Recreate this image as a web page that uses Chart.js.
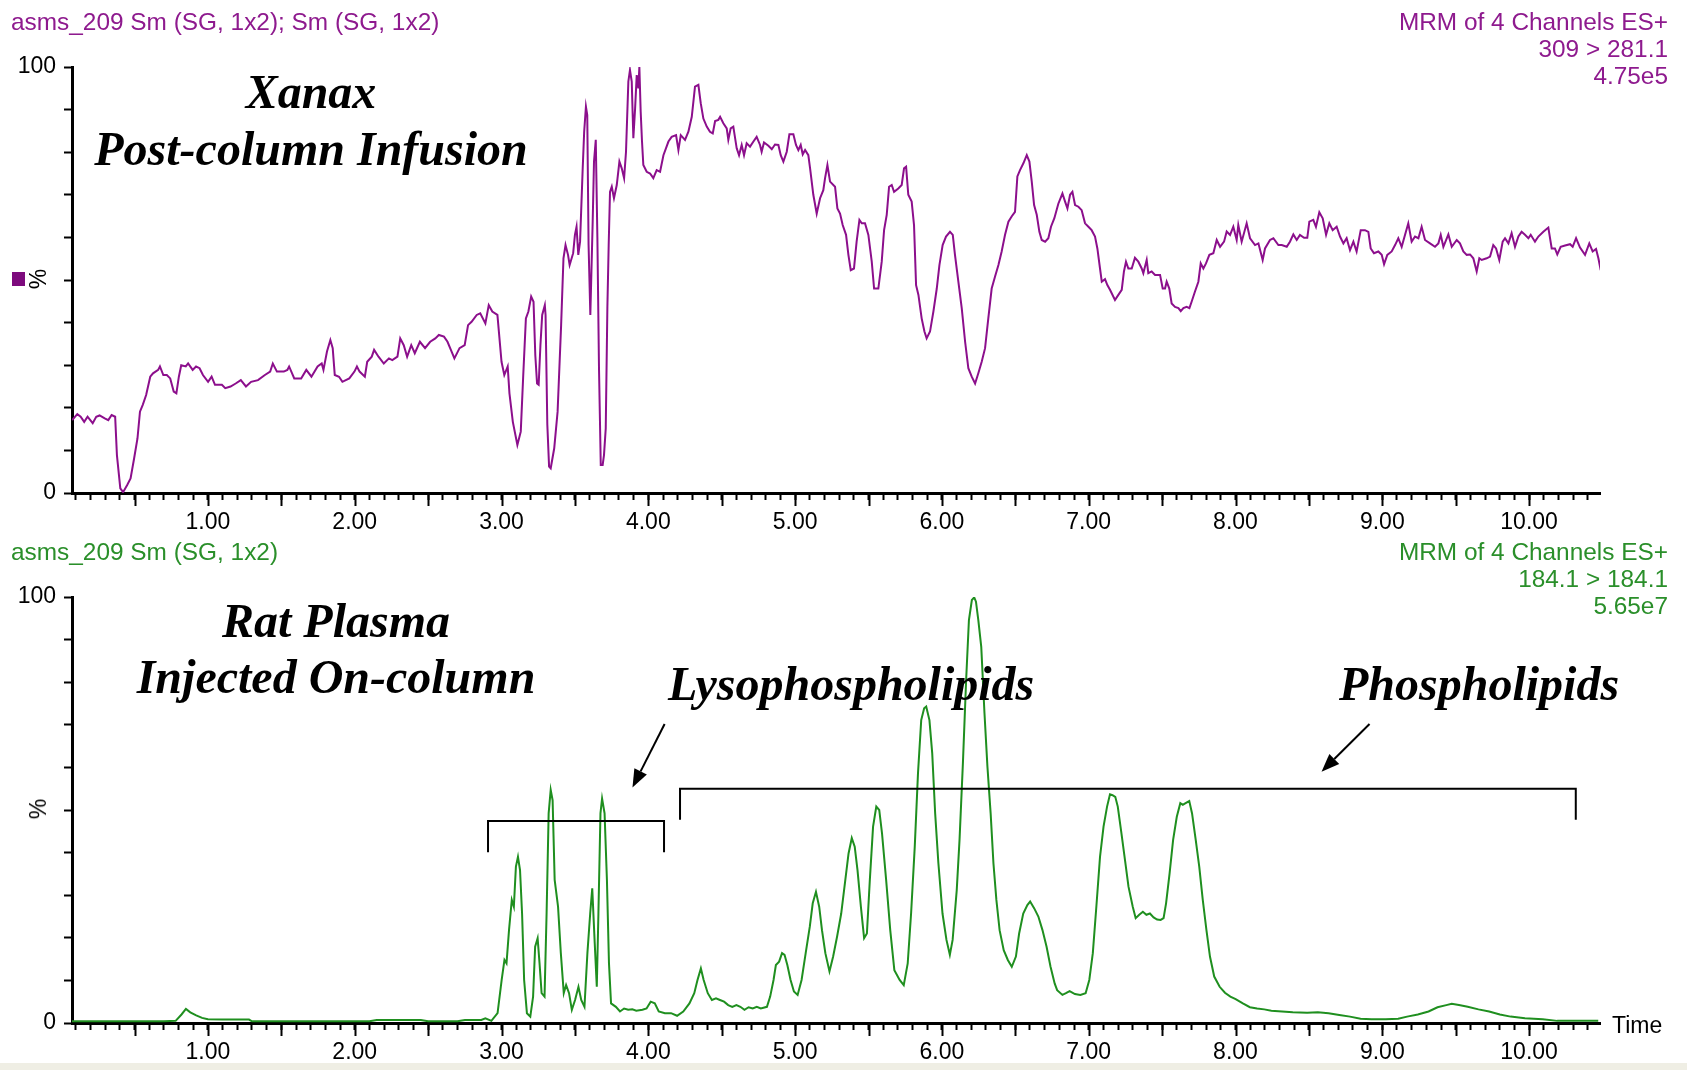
<!DOCTYPE html>
<html>
<head>
<meta charset="utf-8">
<title>MRM chromatograms</title>
<script src="https://cdn.jsdelivr.net/npm/chart.js@4.4.1/dist/chart.umd.min.js"></script>
<style>
    html, body { margin: 0; padding: 0; background: #fff; }
    body { width: 1687px; height: 1070px; position: relative; overflow: hidden; font-family: "Liberation Sans", Arial, sans-serif; }
    canvas { position: absolute; left: 0; }
    #topChart { top: 0; }
    #bottomChart { top: 535px; }
    .hdr { position: absolute; font-size: 24.4px; line-height: 27px; white-space: nowrap; }
    .hdr.right { right: 19px; text-align: right; }
    .purple { color: #8e1a8e; }
    .green { color: #2a8f2a; }
    .note { position: absolute; font-family: "Liberation Serif", "Times New Roman", serif; font-weight: bold; font-style: italic; font-size: 48px; line-height: 48px; color: #000; white-space: nowrap; }
    .centered { transform: translateX(-50%); }
    .pct { position: absolute; font-size: 23px; line-height: 26px; transform: translate(-50%, -50%) rotate(-90deg); }
    .swatch { position: absolute; left: 12px; top: 272px; width: 13px; height: 14px; background: #7d0a7d; }
    .time { position: absolute; left: 1612px; top: 1012px; font-size: 23px; line-height: 26px; }
    .edge { position: absolute; left: 0; top: 1063px; width: 1687px; height: 7px; background: #efeee4; }
</style>
</head>
<body>
<canvas id="topChart" width="1687" height="535"></canvas>
<canvas id="bottomChart" width="1687" height="535"></canvas>

<div class="hdr purple" style="left:11px; top:8px;">asms_209 Sm (SG, 1x2); Sm (SG, 1x2)</div>
<div class="hdr purple right" style="top:8px;">MRM of 4 Channels ES+<br>309 &gt; 281.1<br>4.75e5</div>
<div class="hdr green" style="left:11px; top:538px;">asms_209 Sm (SG, 1x2)</div>
<div class="hdr green right" style="top:538px;">MRM of 4 Channels ES+<br>184.1 &gt; 184.1<br>5.65e7</div>

<div class="note centered" style="left:311px; top:68px;">Xanax</div>
<div class="note centered" style="left:311px; top:125px;">Post-column Infusion</div>
<div class="note centered" style="left:336px; top:597px;">Rat Plasma</div>
<div class="note centered" style="left:336px; top:653px;">Injected On-column</div>
<div class="note" style="left:668px; top:660px;">Lysophospholipids</div>
<div class="note" style="left:1339px; top:660px;">Phospholipids</div>

<div class="swatch"></div>
<div class="pct" style="left:38px; top:279px;">%</div>
<div class="pct" style="left:38px; top:809px;">%</div>
<div class="time">Time</div>
<div class="edge"></div>

<script>
// retention time (min) and relative intensity (%)
const xanaxTime = [
    0.075, 0.110, 0.133, 0.157, 0.180, 0.215, 0.239, 0.262, 0.297, 0.321, 0.344, 0.368, 0.380, 0.403, 0.422, 0.450,
    0.473, 0.497, 0.520, 0.537, 0.556, 0.579, 0.607, 0.626, 0.661, 0.673, 0.696, 0.720, 0.743, 0.767, 0.785, 0.802,
    0.818, 0.849, 0.865, 0.896, 0.919, 0.943, 0.966, 1.001, 1.025, 1.048, 1.095, 1.118, 1.154, 1.189, 1.224, 1.259,
    1.294, 1.341, 1.388, 1.424, 1.442, 1.470, 1.517, 1.541, 1.553, 1.588, 1.635, 1.670, 1.705, 1.747, 1.775, 1.787,
    1.811, 1.834, 1.850, 1.864, 1.893, 1.916, 1.963, 1.998, 2.015, 2.033, 2.069, 2.085, 2.116, 2.132, 2.162, 2.198,
    2.233, 2.256, 2.291, 2.310, 2.334, 2.357, 2.385, 2.409, 2.444, 2.479, 2.514, 2.549, 2.573, 2.608, 2.632, 2.655,
    2.679, 2.714, 2.749, 2.772, 2.796, 2.831, 2.855, 2.890, 2.913, 2.937, 2.972, 3.000, 3.019, 3.042, 3.054, 3.077,
    3.108, 3.131, 3.148, 3.166, 3.183, 3.202, 3.218, 3.230, 3.242, 3.253, 3.265, 3.277, 3.295, 3.300, 3.312, 3.324,
    3.335, 3.359, 3.382, 3.406, 3.422, 3.436, 3.453, 3.464, 3.488, 3.500, 3.511, 3.523, 3.535, 3.553, 3.563, 3.575,
    3.584, 3.593, 3.605, 3.621, 3.630, 3.642, 3.653, 3.664, 3.676, 3.689, 3.698, 3.710, 3.721, 3.730, 3.739, 3.751,
    3.766, 3.785, 3.803, 3.819, 3.835, 3.848, 3.864, 3.875, 3.887, 3.898, 3.910, 3.921, 3.932, 3.939, 3.948, 3.957,
    3.966, 3.989, 4.012, 4.034, 4.057, 4.080, 4.103, 4.137, 4.159, 4.189, 4.205, 4.221, 4.250, 4.273, 4.296, 4.318,
    4.341, 4.357, 4.375, 4.398, 4.420, 4.439, 4.455, 4.477, 4.489, 4.511, 4.534, 4.545, 4.561, 4.579, 4.602, 4.618,
    4.636, 4.652, 4.670, 4.693, 4.716, 4.738, 4.761, 4.772, 4.788, 4.818, 4.841, 4.863, 4.886, 4.902, 4.920, 4.943,
    4.961, 4.988, 5.006, 5.022, 5.038, 5.052, 5.068, 5.090, 5.102, 5.124, 5.147, 5.170, 5.192, 5.204, 5.220, 5.238,
    5.272, 5.288, 5.306, 5.324, 5.347, 5.363, 5.379, 5.401, 5.419, 5.438, 5.454, 5.476, 5.499, 5.522, 5.538, 5.567,
    5.590, 5.606, 5.624, 5.640, 5.658, 5.674, 5.703, 5.726, 5.742, 5.756, 5.771, 5.794, 5.810, 5.824, 5.840, 5.862,
    5.881, 5.896, 5.919, 5.942, 5.965, 5.983, 6.005, 6.028, 6.055, 6.074, 6.089, 6.112, 6.135, 6.158, 6.180, 6.203,
    6.226, 6.248, 6.271, 6.294, 6.316, 6.339, 6.362, 6.385, 6.407, 6.430, 6.453, 6.475, 6.498, 6.514, 6.532, 6.555,
    6.578, 6.596, 6.612, 6.628, 6.646, 6.664, 6.680, 6.703, 6.725, 6.743, 6.766, 6.793, 6.821, 6.839, 6.855, 6.873,
    6.889, 6.907, 6.930, 6.952, 6.975, 6.998, 7.020, 7.043, 7.059, 7.077, 7.089, 7.111, 7.127, 7.145, 7.179, 7.202,
    7.225, 7.240, 7.254, 7.270, 7.293, 7.315, 7.338, 7.361, 7.372, 7.395, 7.406, 7.429, 7.452, 7.486, 7.504, 7.520,
    7.531, 7.549, 7.565, 7.588, 7.611, 7.627, 7.645, 7.667, 7.686, 7.701, 7.724, 7.747, 7.763, 7.781, 7.799, 7.822,
    7.849, 7.872, 7.895, 7.922, 7.940, 7.963, 7.985, 8.008, 8.019, 8.042, 8.076, 8.099, 8.133, 8.156, 8.185, 8.201,
    8.235, 8.258, 8.292, 8.315, 8.349, 8.371, 8.394, 8.417, 8.439, 8.467, 8.489, 8.503, 8.530, 8.548, 8.571, 8.594,
    8.617, 8.639, 8.662, 8.689, 8.712, 8.735, 8.757, 8.780, 8.803, 8.825, 8.853, 8.882, 8.905, 8.921, 8.943, 8.973,
    8.996, 9.012, 9.034, 9.064, 9.087, 9.109, 9.132, 9.155, 9.177, 9.200, 9.223, 9.246, 9.268, 9.291, 9.325, 9.359,
    9.382, 9.398, 9.416, 9.450, 9.473, 9.507, 9.529, 9.552, 9.575, 9.598, 9.620, 9.643, 9.661, 9.677, 9.711, 9.734,
    9.756, 9.775, 9.797, 9.820, 9.836, 9.859, 9.881, 9.904, 9.927, 9.949, 9.972, 9.995, 10.011, 10.040, 10.063, 10.097,
    10.131, 10.154, 10.176, 10.192, 10.215, 10.245, 10.279, 10.297, 10.320, 10.347, 10.381, 10.410, 10.433, 10.456, 10.472, 10.488
];
const xanaxPct = [
    17.1, 18.5, 17.9, 16.7, 17.9, 16.4, 17.9, 18.2, 17.5, 17.1, 18.3, 17.9, 8.9, 1.1, 0.2, 1.9,
    3.4, 8.1, 12.8, 19.1, 20.7, 23.0, 27.3, 28.1, 28.9, 29.7, 27.7, 27.7, 26.9, 23.8, 23.4, 27.3,
    30.0, 29.7, 30.4, 28.9, 29.7, 29.3, 27.7, 26.1, 27.3, 25.4, 25.4, 24.6, 25.0, 25.7, 26.5, 25.0,
    26.1, 26.5, 27.7, 28.5, 30.4, 28.5, 28.5, 28.9, 29.7, 26.9, 26.9, 28.9, 27.3, 29.7, 30.4, 28.9,
    33.2, 35.9, 34.0, 27.7, 27.3, 26.1, 26.9, 28.5, 29.7, 28.5, 27.3, 30.8, 32.0, 33.6, 32.0, 30.4,
    31.6, 31.2, 32.0, 36.3, 34.7, 32.0, 34.7, 32.8, 35.5, 34.0, 35.5, 36.3, 37.1, 36.7, 35.5, 33.6,
    31.6, 34.0, 34.7, 39.4, 40.2, 41.8, 42.2, 39.8, 44.1, 42.6, 41.8, 30.8, 27.7, 29.7, 23.4, 16.7,
    11.3, 14.4, 27.7, 41.0, 42.6, 46.1, 44.9, 32.4, 25.7, 25.4, 34.7, 41.8, 44.1, 41.8, 16.0, 6.2,
    5.8, 10.5, 19.1, 39.4, 55.1, 58.2, 55.9, 53.5, 56.3, 60.6, 62.5, 55.9, 59.0, 76.2, 84.8, 90.7,
    88.7, 58.2, 41.8, 63.7, 77.8, 82.9, 60.0, 29.3, 6.6, 6.6, 8.9, 15.2, 43.4, 58.2, 70.7, 71.9,
    69.2, 72.3, 77.8, 76.2, 73.9, 80.1, 96.6, 99.3, 96.6, 83.3, 90.3, 98.1, 95.0, 100.0, 89.5, 82.5,
    77.0, 75.4, 75.0, 73.9, 75.8, 75.4, 79.3, 82.5, 83.6, 84.0, 80.5, 84.0, 82.9, 84.8, 88.3, 95.4,
    95.8, 91.5, 87.9, 86.0, 84.8, 84.4, 87.3, 87.6, 88.3, 86.8, 85.6, 82.9, 85.6, 86.0, 80.9, 79.3,
    81.7, 79.3, 82.1, 81.3, 82.5, 83.6, 81.7, 80.1, 82.3, 81.5, 80.7, 81.8, 81.7, 79.3, 77.8, 80.1,
    84.2, 84.2, 81.7, 80.5, 81.7, 79.5, 80.5, 79.3, 76.2, 70.0, 65.6, 69.2, 71.1, 73.9, 77.0, 73.1,
    71.9, 66.8, 65.6, 62.9, 60.6, 55.9, 52.3, 52.7, 59.0, 64.1, 63.3, 63.3, 60.6, 54.3, 48.0, 48.0,
    54.3, 61.7, 65.3, 71.9, 72.3, 70.7, 71.5, 72.3, 76.2, 76.6, 70.0, 68.4, 62.9, 48.8, 46.5, 41.0,
    37.9, 36.3, 37.9, 42.6, 48.0, 53.5, 58.2, 60.2, 61.3, 60.6, 55.9, 49.6, 43.4, 35.5, 29.3, 27.3,
    25.7, 28.1, 30.8, 34.0, 41.0, 48.0, 50.8, 53.5, 56.7, 60.6, 63.7, 64.9, 66.0, 74.3, 75.8, 77.4,
    79.3, 77.8, 73.1, 67.6, 65.3, 61.3, 59.4, 59.0, 59.8, 62.5, 64.5, 67.9, 70.3, 68.4, 66.8, 70.0,
    70.7, 67.6, 67.2, 66.4, 63.3, 62.5, 61.7, 60.2, 57.4, 52.7, 49.6, 50.2, 48.8, 47.7, 45.3, 46.5,
    47.7, 52.0, 54.3, 52.7, 52.7, 55.2, 54.3, 52.7, 51.6, 54.7, 51.6, 52.0, 51.2, 51.2, 48.0, 48.0,
    49.6, 48.0, 44.5, 43.7, 43.4, 42.7, 43.4, 43.7, 43.4, 44.9, 47.3, 49.6, 53.9, 52.7, 53.9, 55.9,
    56.3, 59.4, 57.8, 59.0, 61.4, 60.6, 62.5, 59.4, 62.9, 59.0, 63.3, 59.8, 58.2, 58.6, 54.7, 57.4,
    59.4, 59.8, 58.2, 58.2, 57.8, 59.0, 60.7, 59.4, 60.6, 59.9, 59.9, 63.7, 64.1, 62.5, 65.9, 64.5,
    60.6, 63.3, 61.7, 62.5, 60.2, 58.6, 59.8, 57.0, 59.0, 56.7, 61.7, 61.7, 61.3, 57.4, 56.3, 56.7,
    55.9, 53.7, 55.9, 56.7, 58.2, 59.8, 57.8, 60.6, 63.3, 59.0, 60.2, 59.8, 62.5, 59.4, 58.6, 57.8,
    58.6, 60.6, 57.8, 60.7, 57.8, 59.4, 58.6, 56.7, 55.9, 56.0, 55.1, 52.0, 55.1, 54.7, 55.1, 55.5,
    58.2, 57.4, 54.7, 59.0, 59.8, 58.6, 61.0, 57.8, 60.2, 61.3, 60.6, 59.8, 60.6, 59.0, 60.2, 61.3,
    62.3, 57.4, 57.4, 56.0, 57.8, 58.1, 58.4, 57.8, 59.8, 57.6, 55.9, 58.6, 56.7, 57.3, 55.1, 52.3
];

const plasmaTime = [
    0.074, 0.30, 0.50, 0.70, 0.78, 0.82, 0.85, 0.88, 0.92, 0.96, 1.00, 1.10, 1.20, 1.28, 1.30, 1.50,
    1.80, 2.10, 2.15, 2.30, 2.45, 2.50, 2.70, 2.751, 2.862, 2.890, 2.931, 2.973, 3.001, 3.020, 3.034, 3.051,
    3.070, 3.084, 3.098, 3.112, 3.126, 3.140, 3.154, 3.173, 3.196, 3.215, 3.229, 3.246, 3.259, 3.273, 3.293, 3.307,
    3.321, 3.335, 3.348, 3.362, 3.385, 3.404, 3.424, 3.440, 3.460, 3.479, 3.501, 3.524, 3.543, 3.565, 3.585, 3.604,
    3.618, 3.635, 3.649, 3.660, 3.674, 3.685, 3.702, 3.718, 3.732, 3.746, 3.779, 3.807, 3.835, 3.863, 3.891, 3.918,
    3.960, 3.988, 4.016, 4.044, 4.071, 4.113, 4.155, 4.196, 4.238, 4.280, 4.313, 4.335, 4.358, 4.377, 4.405, 4.433,
    4.461, 4.488, 4.516, 4.544, 4.572, 4.600, 4.627, 4.655, 4.683, 4.711, 4.739, 4.766, 4.808, 4.830, 4.853, 4.869,
    4.891, 4.911, 4.928, 4.947, 4.969, 4.992, 5.017, 5.044, 5.072, 5.100, 5.120, 5.142, 5.164, 5.183, 5.206, 5.234,
    5.259, 5.286, 5.314, 5.342, 5.364, 5.386, 5.406, 5.425, 5.448, 5.470, 5.489, 5.509, 5.531, 5.553, 5.573, 5.592,
    5.620, 5.648, 5.676, 5.712, 5.740, 5.767, 5.790, 5.815, 5.837, 5.859, 5.879, 5.893, 5.915, 5.934, 5.954, 5.976,
    6.004, 6.031, 6.054, 6.073, 6.101, 6.120, 6.143, 6.165, 6.184, 6.204, 6.220, 6.232, 6.248, 6.268, 6.290, 6.310,
    6.332, 6.351, 6.371, 6.393, 6.421, 6.449, 6.476, 6.504, 6.526, 6.554, 6.582, 6.601, 6.629, 6.657, 6.685, 6.713,
    6.740, 6.768, 6.785, 6.821, 6.845, 6.870, 6.906, 6.943, 6.979, 7.004, 7.028, 7.052, 7.077, 7.101, 7.125, 7.145,
    7.162, 7.181, 7.198, 7.223, 7.247, 7.271, 7.300, 7.320, 7.344, 7.369, 7.393, 7.417, 7.442, 7.466, 7.490, 7.510,
    7.527, 7.551, 7.575, 7.600, 7.624, 7.641, 7.660, 7.685, 7.704, 7.729, 7.753, 7.777, 7.802, 7.826, 7.855, 7.892,
    7.928, 7.965, 8.001, 8.050, 8.098, 8.147, 8.196, 8.244, 8.317, 8.390, 8.488, 8.561, 8.634, 8.707, 8.780, 8.852,
    8.926, 9.023, 9.108, 9.169, 9.242, 9.315, 9.376, 9.436, 9.473, 9.522, 9.582, 9.655, 9.728, 9.801, 9.874, 9.972,
    10.093, 10.191, 10.288, 10.410, 10.471
];
const plasmaPct = [
    0.4, 0.4, 0.4, 0.4, 0.5, 2.0, 3.3, 2.5, 1.8, 1.2, 0.9, 0.8, 0.8, 0.8, 0.4, 0.4,
    0.4, 0.4, 0.7, 0.7, 0.7, 0.4, 0.4, 0.7, 0.7, 1.1, 0.5, 2.3, 10.1, 14.8, 14.0, 21.8,
    28.9, 27.3, 36.7, 39.0, 35.9, 25.7, 10.1, 2.3, 1.5, 6.2, 17.9, 19.9, 14.0, 7.0, 6.2, 25.7,
    49.2, 54.7, 52.3, 33.6, 27.3, 16.4, 7.0, 8.9, 7.0, 3.1, 5.4, 8.5, 5.4, 3.8, 16.4, 25.7,
    31.6, 18.7, 8.5, 25.7, 49.2, 52.7, 49.2, 33.6, 14.0, 4.6, 3.8, 2.7, 3.4, 3.1, 3.2, 2.9,
    3.1, 3.4, 5.0, 4.6, 2.7, 2.3, 2.3, 1.7, 2.7, 4.6, 7.0, 10.1, 12.8, 10.1, 7.0, 5.4,
    5.8, 5.4, 5.0, 4.2, 3.8, 4.2, 3.8, 3.1, 3.7, 3.4, 3.8, 3.4, 3.8, 6.2, 10.1, 13.6,
    14.4, 16.4, 16.0, 13.6, 10.1, 7.4, 6.6, 10.1, 16.4, 22.6, 28.1, 30.8, 27.3, 21.8, 16.4, 12.1,
    15.6, 20.3, 25.7, 33.6, 39.8, 43.4, 41.4, 35.9, 27.3, 19.9, 21.0, 33.6, 46.1, 50.8, 50.0, 44.5,
    33.6, 21.8, 12.4, 10.1, 8.9, 14.0, 25.7, 41.4, 58.6, 71.1, 73.9, 74.3, 71.1, 63.3, 49.2, 37.5,
    25.7, 19.5, 16.0, 19.5, 31.2, 43.0, 61.0, 80.5, 94.6, 99.3, 99.9, 98.9, 94.6, 88.3, 72.7, 60.2,
    49.2, 37.5, 28.9, 21.8, 17.1, 14.8, 13.2, 15.6, 21.0, 25.7, 27.7, 28.5, 26.9, 25.0, 21.8, 17.9,
    13.2, 9.3, 7.7, 6.6, 7.0, 7.5, 6.8, 6.6, 7.0, 10.1, 16.4, 27.3, 39.0, 46.1, 50.8, 53.7,
    53.5, 53.1, 50.8, 44.5, 38.3, 32.0, 27.3, 24.6, 25.4, 26.1, 25.4, 25.7, 24.8, 24.3, 24.2, 24.6,
    28.1, 35.1, 43.0, 48.4, 51.6, 51.2, 51.6, 52.1, 49.2, 43.0, 36.7, 28.9, 21.8, 15.6, 10.9, 8.5,
    7.1, 6.2, 5.6, 4.6, 3.7, 3.4, 3.2, 2.9, 2.7, 2.5, 2.4, 2.5, 2.3, 1.9, 1.5, 1.0,
    0.9, 0.9, 1.0, 1.5, 2.0, 2.7, 3.7, 4.2, 4.5, 4.2, 3.8, 3.2, 2.7, 2.0, 1.5, 1.1,
    0.9, 0.5, 0.5, 0.5, 0.5
];

// axis ranges and labels
const timeMin = 0.074;
const timeMax = 10.483;
const minorStep = 0.1;
const xLabelValues = [1, 2, 3, 4, 5, 6, 7, 8, 9, 10];
const yLabelValues = [0, 100];

// annotation geometry in data units (min, %)
const lysoBracket = { from: 2.908, to: 4.107, top: 47.4, foot: 40.1 };
const phosphoBracket = { from: 4.216, to: 10.318, top: 55.0, foot: 47.7 };
const lysoArrow = { x0: 4.111, y0: 70.2, x1: 3.892, y1: 55.3 };
const phosphoArrow = { x0: 8.913, y0: 70.2, x1: 8.586, y1: 59.0 };

const majorTicks = {
    id: "majorTicks",
    afterDraw: function (chart) {
        const x = chart.scales.x;
        const ctx = chart.ctx;
        const bottom = chart.chartArea.bottom;
        ctx.save();
        ctx.strokeStyle = "#000";
        ctx.lineWidth = 2;
        for (let i = 1; i <= 20; i++) {
            const px = Math.round(x.getPixelForValue(i * 0.5)) + 0.5;
            ctx.beginPath();
            ctx.moveTo(px, bottom);
            ctx.lineTo(px, bottom + 13);
            ctx.stroke();
        }
        ctx.restore();
    }
};

const brackets = {
    id: "brackets",
    afterDraw: function (chart) {
        const sx = chart.scales.x;
        const sy = chart.scales.y;
        const ctx = chart.ctx;
        ctx.save();
        ctx.strokeStyle = "#000";
        ctx.fillStyle = "#000";
        ctx.lineWidth = 2;

        [lysoBracket, phosphoBracket].forEach(function (b) {
            const x0 = sx.getPixelForValue(b.from);
            const x1 = sx.getPixelForValue(b.to);
            const yt = sy.getPixelForValue(b.top);
            const yf = sy.getPixelForValue(b.foot);
            ctx.beginPath();
            ctx.moveTo(x0, yf);
            ctx.lineTo(x0, yt);
            ctx.lineTo(x1, yt);
            ctx.lineTo(x1, yf);
            ctx.stroke();
        });

        [lysoArrow, phosphoArrow].forEach(function (a) {
            const x0 = sx.getPixelForValue(a.x0);
            const y0 = sy.getPixelForValue(a.y0);
            const x1 = sx.getPixelForValue(a.x1);
            const y1 = sy.getPixelForValue(a.y1);
            const ang = Math.atan2(y1 - y0, x1 - x0);
            const len = 18;
            const half = 7;
            const bx = x1 - len * Math.cos(ang);
            const by = y1 - len * Math.sin(ang);
            ctx.beginPath();
            ctx.moveTo(x0, y0);
            ctx.lineTo(bx, by);
            ctx.stroke();
            ctx.beginPath();
            ctx.moveTo(x1, y1);
            ctx.lineTo(bx + half * Math.sin(ang), by - half * Math.cos(ang));
            ctx.lineTo(bx - half * Math.sin(ang), by + half * Math.cos(ang));
            ctx.closePath();
            ctx.fill();
        });
        ctx.restore();
    }
};

function buildChart(canvasId, times, values, color, padTop, xAxisHeight, extra) {
    const canvas = document.getElementById(canvasId);
    const ctx = canvas.getContext("2d");
    const points = times.map(function (t, i) {
        return { x: t, y: values[i] };
    });
    const tickFont = { family: "'Liberation Sans', Arial, sans-serif", size: 23 };

    return new Chart(ctx, {
        type: "line",
        data: {
            datasets: [{
                data: points,
                borderColor: color,
                borderWidth: 2,
                pointRadius: 0,
                tension: 0,
                fill: false
            }]
        },
        options: {
            responsive: false,
            animation: false,
            devicePixelRatio: 1,
            layout: { padding: { left: 0, top: padTop, right: 87, bottom: 0 } },
            plugins: {
                legend: { display: false },
                tooltip: { enabled: false }
            },
            scales: {
                x: {
                    type: "linear",
                    min: timeMin,
                    max: timeMax,
                    afterBuildTicks: function (scale) {
                        const ticks = [];
                        for (let i = 1; i * minorStep <= timeMax; i++) {
                            ticks.push({ value: Math.round(i * minorStep * 10) / 10 });
                        }
                        scale.ticks = ticks;
                    },
                    afterFit: function (scale) {
                        scale.height = xAxisHeight;
                    },
                    grid: {
                        drawOnChartArea: false,
                        drawTicks: true,
                        tickLength: 7,
                        tickWidth: 2,
                        tickColor: "#000"
                    },
                    border: { display: true, color: "#000", width: 3 },
                    ticks: {
                        autoSkip: false,
                        maxRotation: 0,
                        minRotation: 0,
                        padding: 9,
                        color: "#000",
                        font: tickFont,
                        callback: function (value) {
                            const v = Math.round(value * 10) / 10;
                            return xLabelValues.indexOf(v) >= 0 ? v.toFixed(2) : "";
                        }
                    }
                },
                y: {
                    min: 0,
                    max: 100,
                    afterFit: function (scale) {
                        scale.width = 72;
                    },
                    grid: {
                        drawOnChartArea: false,
                        drawTicks: true,
                        tickLength: 8,
                        tickWidth: 2,
                        tickColor: "#000"
                    },
                    border: { display: true, color: "#000", width: 3 },
                    ticks: {
                        stepSize: 10,
                        padding: 8,
                        color: "#000",
                        font: tickFont,
                        callback: function (value) {
                            return yLabelValues.indexOf(value) >= 0 ? String(value) : "";
                        }
                    }
                }
            }
        },
        plugins: [majorTicks].concat(extra || [])
    });
}

buildChart("topChart", xanaxTime, xanaxPct, "#8c0f8c", 67, 42);
buildChart("bottomChart", plasmaTime, plasmaPct, "#1f8f1f", 62, 47, [brackets]);
</script>
</body>
</html>
